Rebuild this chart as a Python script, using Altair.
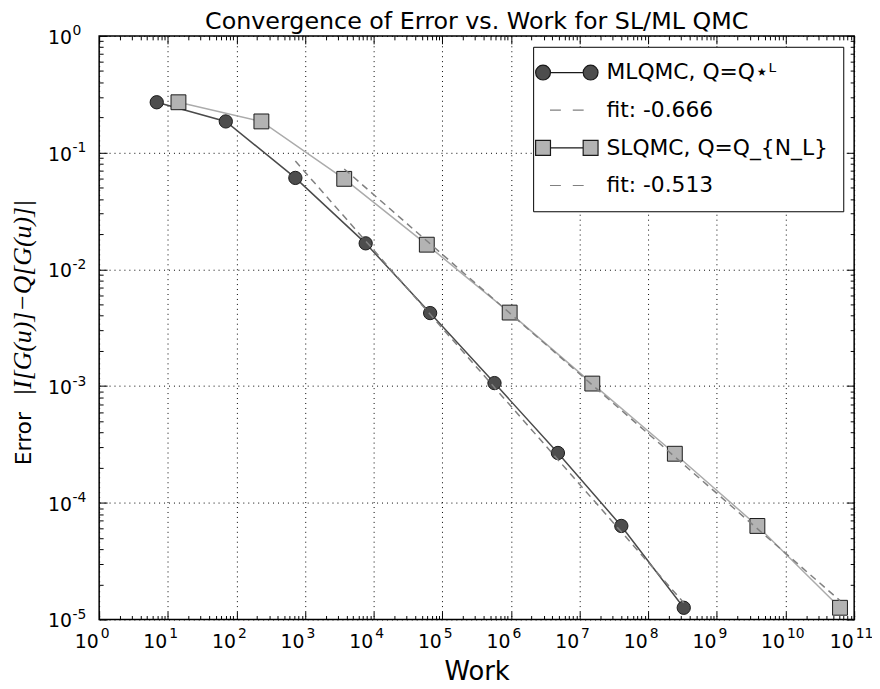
import json
import altair as alt
import pandas as pd

# ---------------- values ----------------
title_text = "Convergence of Error vs. Work for SL/ML QMC"
x_title = "Work"
y_title_word = "Error"
y_title_math = "|I[G(u)]−Q[G(u)]|"
series_labels = ["MLQMC, Q=Q⋆ᴸ", "fit: -0.666", "SLQMC, Q=Q_{N_L}", "fit: -0.513"]

ml_work = [6.9, 70, 722, 7640, 66400, 575000, 4.83e6, 4.05e7, 3.29e8]
ml_err = [0.270, 0.185, 0.0607, 0.0167, 0.00422, 0.00106, 2.67e-4, 6.33e-5, 1.26e-5]

sl_work = [14.3, 231, 3720, 59400, 957000, 1.53e7, 2.44e8, 3.89e9, 6.22e10]
sl_err = [0.270, 0.185, 0.0596, 0.01626, 0.00426, 0.00105, 2.63e-4, 6.33e-5, 1.26e-5]

fit_ml_work = [722, 3.29e8]
fit_ml_err = [0.0847, 1.39e-5]
fit_sl_work = [3720, 6.22e10]
fit_sl_err = [0.0724, 1.45e-5]

x_ticks = [1e0, 1e1, 1e2, 1e3, 1e4, 1e5, 1e6, 1e7, 1e8, 1e9, 1e10, 1e11]
x_exponents = ["0", "1", "2", "3", "4", "5", "6", "7", "8", "9", "10", "11"]
y_ticks = [1e-5, 1e-4, 1e-3, 1e-2, 1e-1, 1e0]
y_exponents = ["-5", "-4", "-3", "-2", "-1", "0"]
tick_base = "10"
x_minor = [k * 10.0 ** d for d in range(0, 11) for k in range(2, 10)]
y_minor = [k * 10.0 ** d for d in range(-5, 0) for k in range(2, 10)]

legend_fills = ["#4d4d4d", "transparent", "#b3b3b3", "transparent"]
legend_strokes = ["#1a1a1a", "#808080", "#1a1a1a", "#808080"]

# ---------------- table ----------------
rows = []
for lbl, xs, ys in [(series_labels[0], ml_work, ml_err),
                    (series_labels[1], fit_ml_work, fit_ml_err),
                    (series_labels[2], sl_work, sl_err),
                    (series_labels[3], fit_sl_work, fit_sl_err)]:
    for xv, yv in zip(xs, ys):
        rows.append({"series": lbl, "work": xv, "error": yv})
df = pd.DataFrame(rows)

FONT = "DejaVu Sans"
MATH_FONT = "Liberation Serif"
xscale = alt.Scale(type="log", domain=[1, 1e11], nice=False)
yscale = alt.Scale(type="log", domain=[1e-5, 1], nice=False)

x_exp_expr = json.dumps(x_exponents) + "[round(log(datum.value)/LN10)]"
y_exp_expr = json.dumps(y_exponents) + "[round(log(datum.value)/LN10)+5]"
base_expr = json.dumps(tick_base)


def tick_axis(values, size, orient):
    return alt.Axis(values=values, orient=orient, tickSize=size, offset=-size,
                    domain=False, labels=False, grid=False, ticks=True,
                    tickColor="black", tickWidth=1, title=None)


def grid_axis(values, orient):
    return alt.Axis(values=values, orient=orient, grid=True, gridColor="black",
                    gridDash=[1, 4], gridWidth=1, gridOpacity=1, ticks=False,
                    labels=False, domain=False, title=None)


label_common = dict(domain=False, grid=False, ticks=False, tickSize=0,
                    labelFont=FONT, labelColor="black", labelFlush=False,
                    labelOverlap=False, labelBaseline="alphabetic")

# "10" part of the tick labels, with the axis titles
x_base_axis = alt.Axis(values=x_ticks, orient="bottom", labelExpr=base_expr,
                       labelFontSize=19, labelAlign="right", labelOffset=-1,
                       labelPadding=28, title=x_title, titleFont=FONT,
                       titleFontSize=26, titleFontWeight="normal", titleColor="black",
                       titleBaseline="alphabetic", titleY=61, **label_common)
y_base_axis = alt.Axis(values=y_ticks, orient="left", labelExpr=base_expr,
                       labelFontSize=19, labelAlign="right", labelOffset=7.5,
                       labelPadding=28, title=y_title_word, titleFont=FONT,
                       titleFontSize=22, titleFontWeight="normal", titleColor="black",
                       titleBaseline="alphabetic", titleX=-69, titleY=406,
                       **label_common)
# superscript exponents
x_exp_axis = alt.Axis(values=x_ticks, orient="bottom", labelExpr=x_exp_expr,
                      labelFontSize=14, labelAlign="left", labelOffset=1,
                      labelPadding=18, title=None, **label_common)
y_exp_axis = alt.Axis(values=y_ticks, orient="left", labelExpr=y_exp_expr,
                      labelFontSize=14, labelAlign="left", labelOffset=-1,
                      labelPadding=27.5, title=y_title_math, titleFont=MATH_FONT,
                      titleFontStyle="italic", titleFontSize=26,
                      titleFontWeight="normal", titleColor="black",
                      titleBaseline="alphabetic", titleX=-69, titleY=264,
                      **label_common)

base = alt.Chart(df)


def xy(xaxis, yaxis):
    return dict(x=alt.X("work:Q", scale=xscale, axis=xaxis),
                y=alt.Y("error:Q", scale=yscale, axis=yaxis))


ml_line = base.transform_filter(alt.datum.series == series_labels[0]).mark_line(
    color="#4a4a4a", strokeWidth=1.5).encode(**xy(x_base_axis, y_base_axis))
ml_pts = base.transform_filter(alt.datum.series == series_labels[0]).mark_circle(
    size=180, color="#4d4d4d", stroke="#1a1a1a", strokeWidth=1, opacity=1).encode(
    **xy(grid_axis(x_ticks, "bottom"), grid_axis(y_ticks, "left")))
ml_fit = base.transform_filter(alt.datum.series == series_labels[1]).mark_line(
    color="#808080", strokeDash=[7, 5], strokeWidth=1.5).encode(
    **xy(tick_axis(x_minor, 4, "bottom"), tick_axis(y_minor, 4, "left")))
sl_line = base.transform_filter(alt.datum.series == series_labels[2]).mark_line(
    color="#ababab", strokeWidth=1.5).encode(
    **xy(tick_axis(x_ticks, 8, "top"), tick_axis(y_ticks, 8, "right")))
sl_pts = base.transform_filter(alt.datum.series == series_labels[2]).mark_square(
    size=225, color="#b3b3b3", stroke="#1a1a1a", strokeWidth=1, opacity=1).encode(
    **xy(tick_axis(x_minor, 4, "top"), tick_axis(y_minor, 4, "right")))
sl_fit = base.transform_filter(alt.datum.series == series_labels[3]).mark_line(
    color="#808080", strokeDash=[7, 5], strokeWidth=1.5).encode(
    **xy(tick_axis(x_ticks, 8, "bottom"), tick_axis(y_ticks, 8, "left")))

# legend symbols (custom paths: marker-line-marker, and dashes)
path_ml = ("M-1.65,0L1.65,0"
           "M-3.15,0A0.75,0.75,0,1,0,-1.65,0A0.75,0.75,0,1,0,-3.15,0Z"
           "M1.65,0A0.75,0.75,0,1,0,3.15,0A0.75,0.75,0,1,0,1.65,0Z")
path_fit = "M-1.7,0L-0.6,0M0.6,0L1.7,0"
path_sl = ("M-1.65,0L1.65,0"
           "M-3.15,-0.75L-1.65,-0.75L-1.65,0.75L-3.15,0.75Z"
           "M1.65,-0.75L3.15,-0.75L3.15,0.75L1.65,0.75Z")


def make_legend():
    return alt.Legend(
        title=None, orient="top-right", offset=11, padding=15, symbolSize=400,
        symbolOffset=8, labelOffset=29, rowPadding=16, labelFont=FONT, labelFontSize=22,
        labelColor="black", labelLimit=500, strokeColor="black", fillColor="white",
        cornerRadius=0, symbolStrokeWidth=1.2, symbolOpacity=1)


legend_layer = base.mark_point(filled=True, opacity=0).encode(
    **xy(x_exp_axis, y_exp_axis),
    shape=alt.Shape("series:N",
                    scale=alt.Scale(domain=series_labels,
                                    range=[path_ml, path_fit, path_sl, path_fit]),
                    legend=make_legend()),
    fill=alt.Fill("series:N", scale=alt.Scale(domain=series_labels, range=legend_fills),
                  legend=make_legend()),
    stroke=alt.Stroke("series:N", scale=alt.Scale(domain=series_labels, range=legend_strokes),
                      legend=make_legend()),
)

chart = alt.layer(ml_line, ml_pts, ml_fit, sl_line, sl_pts, sl_fit, legend_layer).resolve_axis(
    x="independent", y="independent"
).properties(
    width=762, height=589,
    padding={"left": 92, "top": 25, "right": 18, "bottom": 66},
    autosize=alt.AutoSizeParams(type="none"),
    background="white",
    title=alt.TitleParams(text=title_text, font=FONT, fontSize=24, fontWeight="normal",
                          color="black", offset=4, dy=14, anchor="middle", frame="group"),
).configure_view(stroke="black", strokeWidth=1.5)

chart.save("out.html", embed_options={"renderer": "svg", "actions": False})
